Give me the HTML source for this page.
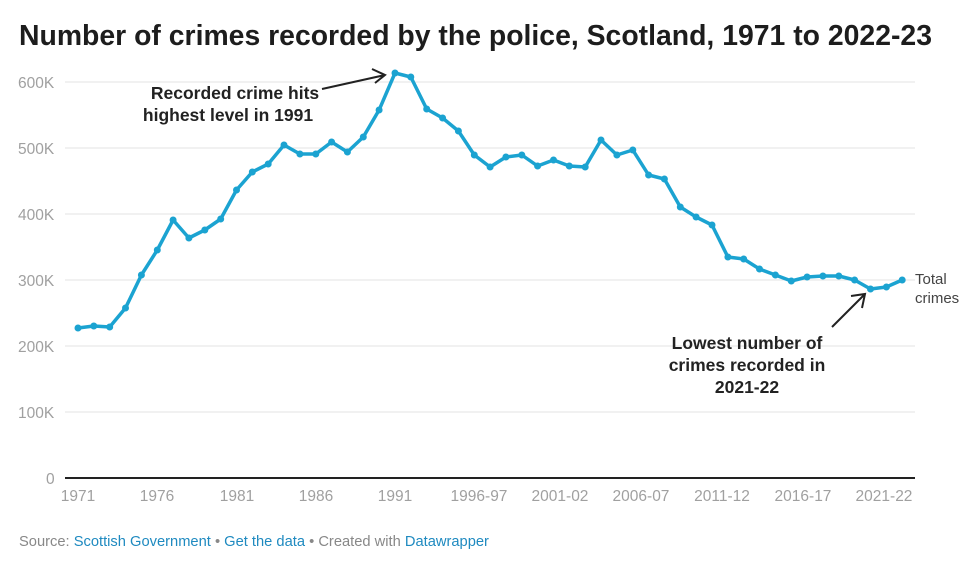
<!DOCTYPE html>
<html><head><meta charset="utf-8"><style>
body{margin:0;background:#fff;font-family:"Liberation Sans",sans-serif;}
</style></head><body>
<svg width="976" height="558" xmlns="http://www.w3.org/2000/svg" font-family="Liberation Sans, sans-serif">
<text x="19" y="45" font-size="28.5" font-weight="bold" fill="#1d1d1d" textLength="913" lengthAdjust="spacingAndGlyphs">Number of crimes recorded by the police, Scotland, 1971 to 2022-23</text>
<g stroke="#e3e3e3" stroke-width="1">
<line x1="65" x2="915" y1="82" y2="82"/><line x1="65" x2="915" y1="148" y2="148"/><line x1="65" x2="915" y1="214" y2="214"/><line x1="65" x2="915" y1="280" y2="280"/><line x1="65" x2="915" y1="346" y2="346"/><line x1="65" x2="915" y1="412" y2="412"/>
</g>
<line x1="65" x2="915" y1="478" y2="478" stroke="#222" stroke-width="2"/>
<g font-size="15.5" fill="#a0a0a0">
<text x="18" y="88">600K</text><text x="18" y="154">500K</text><text x="18" y="220">400K</text><text x="18" y="286">300K</text><text x="18" y="352">200K</text><text x="18" y="418">100K</text><text x="46" y="484">0</text>
</g>
<g font-size="15.5" fill="#a0a0a0" text-anchor="middle">
<text x="78" y="501">1971</text><text x="157" y="501">1976</text><text x="237" y="501">1981</text><text x="316" y="501">1986</text><text x="395" y="501">1991</text><text x="479" y="501">1996-97</text><text x="560" y="501">2001-02</text><text x="641" y="501">2006-07</text><text x="722" y="501">2011-12</text><text x="803" y="501">2016-17</text><text x="884" y="501">2021-22</text>
</g>
<g id="s"></g>
<text x="915" y="284" font-size="15" fill="#444">Total</text>
<text x="915" y="303" font-size="15" fill="#444">crimes</text>
<g font-size="17.5" font-weight="bold" fill="#222" text-anchor="middle">
<text x="235" y="99">Recorded crime hits</text><text x="228" y="121">highest level in 1991</text>
<text x="747" y="349">Lowest number of</text><text x="747" y="371">crimes recorded in</text><text x="747" y="393">2021-22</text>
</g>
<g stroke="#222" stroke-width="2" fill="none">
<path d="M322 89 L385 75 M372 69 L385 75 L375 83"/>
<path d="M832 327 L865 294 M851 296 L865 294 L862 308"/>
</g>
<text x="19" y="546" font-size="14.7" fill="#888">Source: <tspan fill="#1f8ac0">Scottish Government</tspan> • <tspan fill="#1f8ac0">Get the data</tspan> • Created with <tspan fill="#1f8ac0">Datawrapper</tspan></text>
</svg>
<script>
var ys=[328,326,327,308,275,250,220,238,230,219,190,172,164,145,154,154,142,152,137,110,73,77,109,118,131,155,167,157,155,166,160,166,167,140,155,150,175,179,207,217,225,257,259,269,275,281,277,276,276,280,289,287,280];
var p=ys.map(function(y,i){return (78+i*15.85).toFixed(1)+","+y;});
var h='<polyline points="'+p.join(" ")+'" fill="none" stroke="#1ba3d1" stroke-width="3.5" stroke-linejoin="round"/>';
p.forEach(function(q){var a=q.split(",");h+='<circle cx="'+a[0]+'" cy="'+a[1]+'" r="3.5" fill="#1ba3d1"/>';});
document.getElementById("s").innerHTML=h;
</script>
</body></html>
